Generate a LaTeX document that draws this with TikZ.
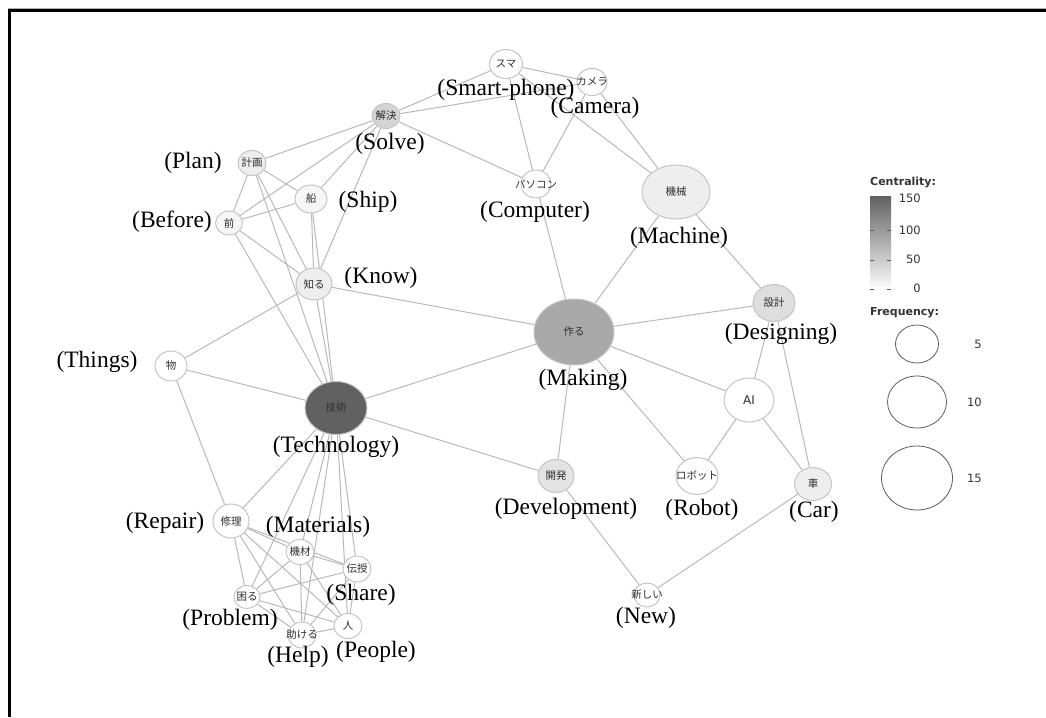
\documentclass[tikz,border=0pt]{standalone}
\usepackage{fontspec}
\setmainfont{Liberation Serif}
\newfontfamily\jpfont{Noto Sans CJK JP}
\newfontfamily\legfont{DejaVu Sans}
\usetikzlibrary{shapes.geometric,backgrounds}
\definecolor{edgec}{HTML}{B8B8B8}
\definecolor{nodeb}{HTML}{C4C4C4}
\definecolor{jtext}{HTML}{2E2E2E}
\definecolor{legc}{HTML}{333333}
\definecolor{techc}{HTML}{616161}
\definecolor{makec}{HTML}{A9A9A9}
\definecolor{solvec}{HTML}{D4D4D4}
\definecolor{desc}{HTML}{DEDEDE}
\definecolor{devc}{HTML}{E3E3E3}
\definecolor{lightc}{HTML}{EEEEEE}
\definecolor{paler}{HTML}{F6F6F6}
\newcommand\jnode[6]{\node[wn, fill=#5, minimum width=#3pt, minimum height=#4pt, label={[jl]center:#6}] (#1) at (#2) {};}
\begin{document}
\begin{tikzpicture}[x=1pt,y=-1pt,
  wn/.style={ellipse, draw=nodeb, line width=1pt, inner sep=0pt},
  jl/.style={font=\jpfont\fontsize{10.5}{10.5}\selectfont, text=jtext, inner sep=0pt},
  en/.style={font=\fontsize{23.5}{24}\selectfont, inner sep=0pt},
  ed/.style={draw=edgec, line width=1pt},
  lt/.style={font=\legfont\bfseries\fontsize{11}{11}\selectfont, text=legc, inner sep=0pt, anchor=west},
  ln/.style={font=\legfont\fontsize{11.5}{11.5}\selectfont, text=legc, inner sep=0pt, anchor=east},
  tick/.style={draw=legc!80, line width=1pt}]
\useasboundingbox (0,0) rectangle (1046,717);
% frame
\draw[gray!60, line width=0.8pt] (8,8.6) -- (1046,8.6);
\draw[line width=3pt] (9.5,717) -- (9.5,11) -- (1046,11);

% nodes
\jnode{suma}{506,64}{33}{29}{white}{スマ}
\jnode{camera}{592,82}{30}{27}{white}{カメラ}
\jnode{solve}{386,116}{28}{25}{solvec}{解決}
\jnode{plan}{252,163}{28}{25}{lightc}{計画}
\jnode{ship}{311,199}{32}{28}{paler}{船}
\jnode{before}{229,223}{27}{24}{paler}{前}
\jnode{know}{314,284}{36}{32}{lightc}{知る}
\jnode{pc}{536,184}{30}{28}{white}{パソコン}
\jnode{machine}{676,192}{68}{54}{lightc}{機械}
\jnode{design}{774,303}{42}{37}{desc}{設計}
\node[wn, fill=white, minimum width=50pt, minimum height=44pt, label={[jl, font=\legfont\fontsize{12}{12}\selectfont]center:AI}] (ai) at (749,400) {};
\jnode{car}{813,484}{37}{33}{lightc}{車}
\jnode{make}{574,332}{80}{66}{makec}{作る}
\jnode{dev}{556,476}{36}{33}{devc}{開発}
\jnode{robot}{697,476}{42}{37}{white}{ロボット}
\jnode{new}{647,595}{26}{24}{white}{新しい}
\jnode{thing}{171,366}{32}{30}{white}{物}
\jnode{tech}{336,408}{62}{53}{techc}{技術}
\jnode{repair}{231,521}{36}{34}{white}{修理}
\jnode{mat}{300,552}{28}{25}{white}{機材}
\jnode{share}{357,569}{28}{26}{white}{伝授}
\jnode{prob}{247,597}{26}{23}{white}{困る}
\jnode{help}{302,635}{28}{26}{white}{助ける}
\jnode{people}{348,626}{28}{25}{white}{人}

% edges
\begin{pgfonlayer}{background}
\foreach \a/\b in {suma/solve, suma/camera, suma/pc, suma/machine,
  solve/camera, solve/pc, solve/plan, solve/before, solve/ship, solve/know,
  camera/pc, camera/machine,
  plan/before, plan/ship, plan/know, plan/tech,
  before/ship, before/know, before/tech,
  ship/know, ship/tech,
  know/make, know/thing, know/tech,
  pc/make, machine/make, machine/design,
  make/design, make/tech, make/dev, make/robot, make/ai,
  design/ai, design/car, ai/robot, ai/car,
  car/new, dev/new,
  tech/dev, tech/thing, tech/repair, tech/mat, tech/share, tech/prob, tech/help, tech/people,
  thing/repair,
  repair/mat, repair/share, repair/prob, repair/help, repair/people,
  mat/share, mat/prob, mat/help, mat/people,
  prob/share, prob/help, prob/people,
  help/people, help/share, share/people}
  \draw[ed] (\a) -- (\b);
\end{pgfonlayer}

% English labels
\node[en] (lsuma) at (506,90) {(Smart-phone)};
\node[en] (lcamera) at (595,108) {(Camera)};
\node[en] (lsolve) at (390,144) {(Solve)};
\node[en] (lplan) at (193,163) {(Plan)};
\node[en] (lship) at (368,202) {(Ship)};
\node[en] (lbefore) at (172,222) {(Before)};
\node[en] (lknow) at (381,278) {(Know)};
\node[en] (lpc) at (535,212) {(Computer)};
\node[en] (lmachine) at (679,238) {(Machine)};
\node[en] (ldesign) at (781,334) {(Designing)};
\node[en] (lmake) at (583,380) {(Making)};
\node[en] (ldev) at (566,509) {(Development)};
\node[en] (lrobot) at (702,510) {(Robot)};
\node[en] (lcar) at (814,512) {(Car)};
\node[en] (lnew) at (646,618) {(New)};
\node[en] (lthing) at (97,362) {(Things)};
\node[en] (ltech) at (336,447) {(Technology)};
\node[en] (lrepair) at (165,523) {(Repair)};
\node[en] (lmat) at (318,527) {(Materials)};
\node[en] (lshare) at (361,595) {(Share)};
\node[en] (lprob) at (230,620) {(Problem)};
\node[en] (lhelp) at (298,657) {(Help)};
\node[en] (lpeople) at (376,652) {(People)};

% legend: centrality
\node[lt] (ctitle) at (870,183) {Centrality:};
\shade[top color=techc, bottom color=white!97!black] (870,196) rectangle (891,286);
\foreach \yy in {230,260,289} {
  \draw[tick] (870,\yy) -- (874,\yy);
  \draw[tick] (887,\yy) -- (891,\yy);
}
\node[ln] (c150) at (921,198) {150};
\node[ln] (c100) at (921,230) {100};
\node[ln] (c50) at (921,259) {50};
\node[ln] (c0) at (921,288) {0};
% legend: frequency
\node[lt] (ftitle) at (870,313) {Frequency:};
\node[ellipse, draw=legc!80, line width=0.8pt, minimum width=43pt, minimum height=38pt, inner sep=0pt] (f5) at (917,344) {};
\node[ellipse, draw=legc!80, line width=0.8pt, minimum width=59pt, minimum height=52pt, inner sep=0pt] (f10) at (917,402) {};
\node[ellipse, draw=legc!80, line width=0.8pt, minimum width=71pt, minimum height=64pt, inner sep=0pt] (f15) at (917,478) {};
\node[ln] (n5) at (982,344) {5};
\node[ln] (n10) at (982,402) {10};
\node[ln] (n15) at (982,478) {15};
\end{tikzpicture}
\end{document}
